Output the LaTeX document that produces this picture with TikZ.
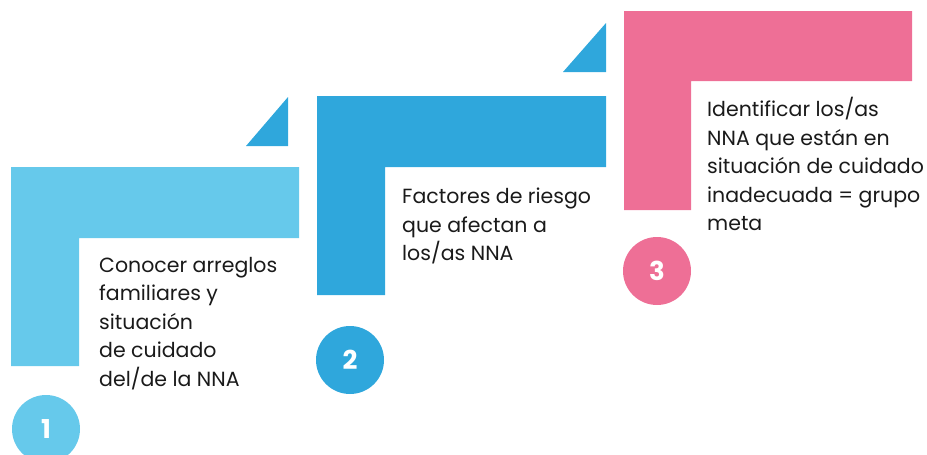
\documentclass[tikz,border=0pt]{standalone}
\usepackage{fontspec}
\setmainfont[Ligatures=NoCommon]{Poppins}
\definecolor{lightsky}{HTML}{66C9EB}
\definecolor{midsky}{HTML}{2FA7DC}
\definecolor{rosepink}{HTML}{EE6F96}
\definecolor{inkgrey}{HTML}{1A1A1A}
\tikzset{
  steptext/.style={anchor=north west,inner sep=0pt,align=left,text=inkgrey,
    font=\fontsize{20.5}{28.5}\selectfont},
  numdot/.style={circle,minimum size=68pt,inner sep=0pt,text=white,
    font=\bfseries\fontsize{26}{26}\selectfont}
}
\begin{document}
\begin{tikzpicture}[x=1pt,y=-1pt]
\useasboundingbox (0,0) rectangle (927,455);
% bracket shapes
\fill[lightsky] (11,167) -- (299,167) -- (299,238) -- (79,238) -- (79,366) -- (11,366) -- cycle;
\fill[midsky] (317,96) -- (606,96) -- (606,167) -- (385,167) -- (385,295) -- (317,295) -- cycle;
\fill[rosepink] (624,11) -- (912,11) -- (912,81) -- (691,81) -- (691,210) -- (624,210) -- cycle;
% corner triangles
\fill[midsky] (246,146) -- (288,97) -- (288,146) -- cycle;
\fill[midsky] (563,72) -- (606,23) -- (606,72) -- cycle;
% texts
\node[steptext] (txtone) at (99,257) {Conocer arreglos\\familiares y\\situación\\de cuidado\\del/de la NNA};
\node[steptext] (txttwo) at (402,188) {Factores de riesgo\\que afectan a\\los/as NNA};
\node[steptext] (txtthree) at (707,97) {Identificar los/as\\NNA que están en\\situación de cuidado\\inadecuada = grupo\\meta};
% numbers
\begin{scope}
\clip (0,0) rectangle (927,455);
\node[numdot,fill=lightsky] (numone) at (46,429) {1};
\end{scope}
\node[numdot,fill=midsky] (numtwo) at (350,360) {2};
\node[numdot,fill=rosepink] (numthree) at (657,271) {3};
\end{tikzpicture}
\end{document}
